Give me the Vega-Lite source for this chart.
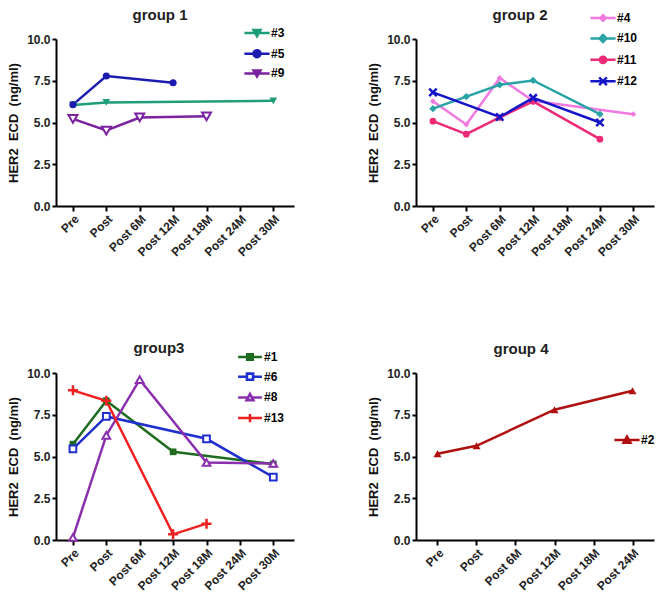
{
  "$schema": "https://vega.github.io/schema/vega-lite/v6.json",
  "background": "white",
  "padding": {"left": 7, "top": 8, "right": 5, "bottom": 5},
  "columns": 2,
  "spacing": {"row": 167, "column": 122},
  "bounds": "flush",
  "config": {
    "font": "Liberation Sans",
    "view": {"stroke": null},
    "axis": {"grid": false, "domainColor": "black", "domainWidth": 2, "tickColor": "black", "tickWidth": 2, "labelFont": "Liberation Sans", "labelFontWeight": "bold", "labelFontSize": 12, "labelColor": "#222", "titleFont": "Liberation Sans", "titleFontWeight": "bold", "titleFontSize": 13, "titleColor": "#111"},
    "axisX": {"labelAngle": -45, "tickSize": 5, "labelPadding": 2},
    "axisY": {"tickSize": 4, "labelPadding": 2, "titlePadding": 6},
    "title": {"font": "Liberation Sans", "fontSize": 15, "fontWeight": "bold", "color": "#222", "anchor": "middle"},
    "legend": {"title": null, "orient": "none", "padding": 0, "symbolSize": 49, "symbolStrokeWidth": 2.5, "symbolOpacity": 1, "labelOffset": 8, "labelFont": "Liberation Sans", "labelFontWeight": "bold", "labelFontSize": 12, "labelColor": "black"}
  },
  "resolve": {"scale": {"color": "independent", "x": "independent", "y": "independent"}, "legend": {"color": "independent"}},
  "datasets": {
    "g1": [
      {"series": "#3", "time": "Pre", "t": 0, "value": 6.05},
      {"series": "#3", "time": "Post", "t": 1, "value": 6.2},
      {"series": "#3", "time": "Post 30M", "t": 6, "value": 6.3},
      {"series": "#5", "time": "Pre", "t": 0, "value": 6.07},
      {"series": "#5", "time": "Post", "t": 1, "value": 7.78},
      {"series": "#5", "time": "Post 12M", "t": 3, "value": 7.38},
      {"series": "#9", "time": "Pre", "t": 0, "value": 5.22},
      {"series": "#9", "time": "Post", "t": 1, "value": 4.52},
      {"series": "#9", "time": "Post 6M", "t": 2, "value": 5.3},
      {"series": "#9", "time": "Post 18M", "t": 4, "value": 5.37}
    ],
    "g2": [
      {"series": "#4", "time": "Pre", "t": 0, "value": 6.27},
      {"series": "#4", "time": "Post", "t": 1, "value": 4.88},
      {"series": "#4", "time": "Post 6M", "t": 2, "value": 7.66},
      {"series": "#4", "time": "Post 12M", "t": 3, "value": 6.3},
      {"series": "#4", "time": "Post 30M", "t": 6, "value": 5.5},
      {"series": "#10", "time": "Pre", "t": 0, "value": 5.83},
      {"series": "#10", "time": "Post", "t": 1, "value": 6.55},
      {"series": "#10", "time": "Post 6M", "t": 2, "value": 7.26},
      {"series": "#10", "time": "Post 12M", "t": 3, "value": 7.52},
      {"series": "#10", "time": "Post 24M", "t": 5, "value": 5.5},
      {"series": "#11", "time": "Pre", "t": 0, "value": 5.08},
      {"series": "#11", "time": "Post", "t": 1, "value": 4.3},
      {"series": "#11", "time": "Post 6M", "t": 2, "value": 5.3},
      {"series": "#11", "time": "Post 12M", "t": 3, "value": 6.27},
      {"series": "#11", "time": "Post 24M", "t": 5, "value": 4.0},
      {"series": "#12", "time": "Pre", "t": 0, "value": 6.8},
      {"series": "#12", "time": "Post 6M", "t": 2, "value": 5.33},
      {"series": "#12", "time": "Post 12M", "t": 3, "value": 6.47},
      {"series": "#12", "time": "Post 24M", "t": 5, "value": 5.0}
    ],
    "g3": [
      {"series": "#1", "time": "Pre", "t": 0, "value": 5.74},
      {"series": "#1", "time": "Post", "t": 1, "value": 8.34},
      {"series": "#1", "time": "Post 12M", "t": 3, "value": 5.28},
      {"series": "#1", "time": "Post 30M", "t": 6, "value": 4.55},
      {"series": "#6", "time": "Pre", "t": 0, "value": 5.46},
      {"series": "#6", "time": "Post", "t": 1, "value": 7.4},
      {"series": "#6", "time": "Post 18M", "t": 4, "value": 6.06},
      {"series": "#6", "time": "Post 30M", "t": 6, "value": 3.76},
      {"series": "#8", "time": "Pre", "t": 0, "value": 0.15},
      {"series": "#8", "time": "Post", "t": 1, "value": 6.26},
      {"series": "#8", "time": "Post 6M", "t": 2, "value": 9.6},
      {"series": "#8", "time": "Post 18M", "t": 4, "value": 4.64},
      {"series": "#8", "time": "Post 30M", "t": 6, "value": 4.58},
      {"series": "#13", "time": "Pre", "t": 0, "value": 8.96},
      {"series": "#13", "time": "Post", "t": 1, "value": 8.34},
      {"series": "#13", "time": "Post 12M", "t": 3, "value": 0.34},
      {"series": "#13", "time": "Post 18M", "t": 4, "value": 0.98}
    ],
    "g4": [
      {"series": "#2", "time": "Pre", "t": 0, "value": 5.16},
      {"series": "#2", "time": "Post", "t": 1, "value": 5.64},
      {"series": "#2", "time": "Post 12M", "t": 3, "value": 7.8},
      {"series": "#2", "time": "Post 24M", "t": 5, "value": 8.94}
    ]
  },
  "concat": [
    {
      "width": 238, "height": 167,
      "title": {"text": "group 1", "dx": -15, "offset": 4},
      "data": {"name": "g1"},
      "encoding": {
        "x": {"field": "time", "type": "ordinal", "scale": {"domain": ["Pre", "Post", "Post 6M", "Post 12M", "Post 18M", "Post 24M", "Post 30M"], "padding": 0.563, "align": 0.45}, "axis": {"title": null}},
        "y": {"field": "value", "type": "quantitative", "scale": {"domain": [0, 10]}, "axis": {"title": "HER2\u00a0 ECD\u00a0 (ng/ml)", "values": [0, 2.5, 5, 7.5, 10], "format": ".1f"}},
        "color": {"field": "series", "type": "nominal", "scale": {"domain": ["#3", "#5", "#9"], "range": ["#1e9e78", "#1c1cb0", "#7a22a0"]}, "legend": null}
      },
      "layer": [
        {
          "mark": {"type": "line", "strokeWidth": 2.5},
          "encoding": {
            "order": {"field": "t", "type": "quantitative"},
            "color": {"field": "series", "type": "nominal", "scale": {"domain": ["#3", "#5", "#9"], "range": ["#1e9e78", "#1c1cb0", "#7a22a0"]},
              "legend": {"legendX": 195, "legendY": -12, "rowPadding": 2.7,
                "encode": {"symbols": {"update": {
                  "shape": [{"test": "datum.value === '#5'", "value": "M-3.6,0H3.6M-1,0A1,1,0,1,0,1,0A1,1,0,1,0,-1,0Z"}, {"value": "M-3.6,0H3.6M-1,-0.85L1,-0.85L0,0.9Z"}],
                  "fill": [{"test": "datum.value === '#3'", "value": "#1e9e78"}, {"test": "datum.value === '#5'", "value": "#1c1cb0"}, {"value": "#7a22a0"}]
                }}}}}
          }
        },
        {"transform": [{"filter": "datum.series === '#3'"}], "mark": {"type": "point", "filled": true, "opacity": 1, "shape": "triangle-down", "size": 60}},
        {"transform": [{"filter": "datum.series === '#5'"}], "mark": {"type": "point", "filled": true, "opacity": 1, "shape": "circle", "size": 50}},
        {"transform": [{"filter": "datum.series === '#9'"}], "mark": {"type": "point", "filled": false, "fill": "white", "fillOpacity": 1, "strokeWidth": 2, "opacity": 1, "shape": "triangle-down", "size": 80}}
      ]
    },
    {
      "width": 238, "height": 167,
      "title": {"text": "group 2", "dx": -15, "offset": -11},
      "data": {"name": "g2"},
      "encoding": {
        "x": {"field": "time", "type": "ordinal", "scale": {"domain": ["Pre", "Post", "Post 6M", "Post 12M", "Post 18M", "Post 24M", "Post 30M"], "padding": 0.563, "align": 0.45}, "axis": {"title": null}},
        "y": {"field": "value", "type": "quantitative", "scale": {"domain": [0, 10]}, "axis": {"title": "HER2\u00a0 ECD\u00a0 (ng/ml)", "values": [0, 2.5, 5, 7.5, 10], "format": ".1f"}},
        "color": {"field": "series", "type": "nominal", "scale": {"domain": ["#4", "#10", "#11", "#12"], "range": ["#f07ae0", "#2aa3a6", "#ec2a78", "#1414c8"]}, "legend": null}
      },
      "layer": [
        {
          "mark": {"type": "line", "strokeWidth": 2.5},
          "encoding": {
            "order": {"field": "t", "type": "quantitative"},
            "color": {"field": "series", "type": "nominal", "scale": {"domain": ["#4", "#10", "#11", "#12"], "range": ["#f07ae0", "#2aa3a6", "#ec2a78", "#1414c8"]},
              "legend": {"legendX": 181, "legendY": -27, "rowPadding": 3.4,
                "encode": {"symbols": {"update": {
                  "shape": [{"test": "datum.value === '#4'", "value": "M-3.6,0H3.6M0,-0.8L0.8,0L0,0.8L-0.8,0Z"}, {"test": "datum.value === '#10'", "value": "M-3.6,0H3.6M0,-1L1,0L0,1L-1,0Z"}, {"test": "datum.value === '#11'", "value": "M-3.6,0H3.6M-0.9,0A0.9,0.9,0,1,0,0.9,0A0.9,0.9,0,1,0,-0.9,0Z"}, {"value": "M-3.6,0H3.6M-1.1,-1.1L1.1,1.1M-1.1,1.1L1.1,-1.1"}],
                  "fill": [{"test": "datum.value === '#4'", "value": "#f07ae0"}, {"test": "datum.value === '#10'", "value": "#2aa3a6"}, {"test": "datum.value === '#11'", "value": "#ec2a78"}, {"value": "transparent"}]
                }}}}}
          }
        },
        {"transform": [{"filter": "datum.series === '#4'"}], "mark": {"type": "point", "filled": true, "opacity": 1, "shape": "diamond", "size": 35}},
        {"transform": [{"filter": "datum.series === '#10'"}], "mark": {"type": "point", "filled": true, "opacity": 1, "shape": "diamond", "size": 55}},
        {"transform": [{"filter": "datum.series === '#11'"}], "mark": {"type": "point", "filled": true, "opacity": 1, "shape": "circle", "size": 45}},
        {"transform": [{"filter": "datum.series === '#12'"}], "mark": {"type": "point", "filled": false, "strokeWidth": 2.5, "opacity": 1, "shape": "M-1,-1L1,1M-1,1L1,-1", "size": 55}}
      ]
    },
    {
      "width": 238, "height": 167,
      "title": {"text": "group3", "dx": -16, "offset": -5},
      "data": {"name": "g3"},
      "encoding": {
        "x": {"field": "time", "type": "ordinal", "scale": {"domain": ["Pre", "Post", "Post 6M", "Post 12M", "Post 18M", "Post 24M", "Post 30M"], "padding": 0.563, "align": 0.45}, "axis": {"title": null}},
        "y": {"field": "value", "type": "quantitative", "scale": {"domain": [0, 10]}, "axis": {"title": "HER2\u00a0 ECD\u00a0 (ng/ml)", "values": [0, 2.5, 5, 7.5, 10], "format": ".1f"}},
        "color": {"field": "series", "type": "nominal", "scale": {"domain": ["#1", "#6", "#8", "#13"], "range": ["#1f6b1f", "#1f2fd0", "#8a2fae", "#f02020"]}, "legend": null}
      },
      "layer": [
        {
          "mark": {"type": "line", "strokeWidth": 2.5},
          "encoding": {
            "order": {"field": "t", "type": "quantitative"},
            "color": {"field": "series", "type": "nominal", "scale": {"domain": ["#1", "#6", "#8", "#13"], "range": ["#1f6b1f", "#1f2fd0", "#8a2fae", "#f02020"]},
              "legend": {"legendX": 188, "legendY": -22, "rowPadding": 2.7,
                "encode": {"symbols": {"update": {
                  "shape": [{"test": "datum.value === '#1'", "value": "M-3.4,0H3.4M-0.8,-0.8H0.8V0.8H-0.8Z"}, {"test": "datum.value === '#6'", "value": "M-3.4,0H-0.9M0.9,0H3.4M-0.9,-0.9H0.9V0.9H-0.9ZM-0.86,-0.86V0.86H0.86V-0.86Z"}, {"test": "datum.value === '#8'", "value": "M-3.4,0H-0.6M0.6,0H3.4M-1,0.8L1,0.8L0,-1ZM-0.92,0.76L0,-0.92L0.92,0.76Z"}, {"value": "M-3.4,0H3.4M0,-1.2V1.2"}],
                  "fill": [{"test": "datum.value === '#1'", "value": "#1f6b1f"}, {"test": "datum.value === '#6'", "value": "#1f2fd0"}, {"test": "datum.value === '#8'", "value": "#8a2fae"}, {"value": "transparent"}]
                }}}}}
          }
        },
        {"transform": [{"filter": "datum.series === '#1'"}], "mark": {"type": "point", "filled": true, "opacity": 1, "shape": "square", "size": 45}},
        {"transform": [{"filter": "datum.series === '#6'"}], "mark": {"type": "point", "filled": false, "fill": "white", "fillOpacity": 1, "strokeWidth": 2, "opacity": 1, "shape": "square", "size": 45}},
        {"transform": [{"filter": "datum.series === '#8'"}], "mark": {"type": "point", "filled": false, "fill": "white", "fillOpacity": 1, "strokeWidth": 2, "opacity": 1, "shape": "triangle-up", "size": 60}},
        {"transform": [{"filter": "datum.series === '#13'"}], "mark": {"type": "point", "filled": false, "strokeWidth": 2.5, "opacity": 1, "shape": "M-1,0H1M0,-1V1", "size": 100}}
      ]
    },
    {
      "width": 238, "height": 167,
      "title": {"text": "group 4", "dx": -14, "offset": 10},
      "data": {"name": "g4"},
      "encoding": {
        "x": {"field": "time", "type": "ordinal", "scale": {"domain": ["Pre", "Post", "Post 6M", "Post 12M", "Post 18M", "Post 24M"], "padding": 0.551, "align": 0.5}, "axis": {"title": null}},
        "y": {"field": "value", "type": "quantitative", "scale": {"domain": [0, 10]}, "axis": {"title": "HER2\u00a0 ECD\u00a0 (ng/ml)", "values": [0, 2.5, 5, 7.5, 10], "format": ".1f"}},
        "color": {"field": "series", "type": "nominal", "scale": {"domain": ["#2"], "range": ["#b01010"]}, "legend": null}
      },
      "layer": [
        {
          "mark": {"type": "line", "strokeWidth": 2.5},
          "encoding": {
            "order": {"field": "t", "type": "quantitative"},
            "color": {"field": "series", "type": "nominal", "scale": {"domain": ["#2"], "range": ["#b01010"]},
              "legend": {"legendX": 205, "legendY": 61, "rowPadding": 3,
                "encode": {"symbols": {"update": {
                  "shape": {"value": "M-3.6,0H3.6M-1,0.8L1,0.8L0,-1Z"},
                  "fill": {"value": "#b01010"}
                }}}}}
          }
        },
        {"mark": {"type": "point", "filled": true, "opacity": 1, "shape": "triangle-up", "size": 65}}
      ]
    }
  ]
}
